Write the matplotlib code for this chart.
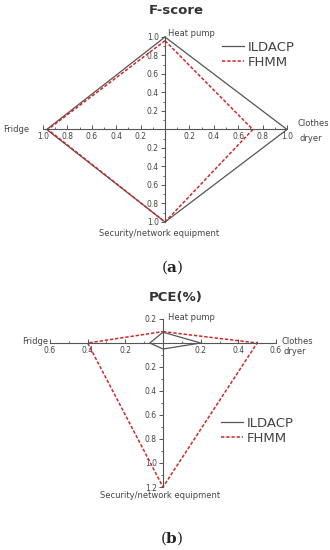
import numpy as np
import matplotlib
matplotlib.use('Agg')
import matplotlib.pyplot as plt
from matplotlib.ticker import FuncFormatter, MultipleLocator

# category order around the diamond: top, right, bottom, left
categories = ['Heat pump', 'Clothes dryer', 'Security/network equipment', 'Fridge']
series = ['ILDACP', 'FHMM']

fscore_ildacp = [1.0, 1.0, 1.0, 0.97]
fscore_fhmm = [0.96, 0.72, 1.0, 0.96]

pce_ildacp = [0.09, 0.20, 0.05, 0.07]
pce_fhmm = [0.095, 0.50, 1.20, 0.40]

W, H = 330, 550
txt_col = '#444444'
line_col = '#555555'
red = '#cc2a2a'


def fpos(x, y):
    # pixel position -> figure fraction
    return x / W, 1 - y / H


def diamond(vals):
    # top, right, bottom, left
    dx = np.array([0, 1, 0, -1])
    dy = np.array([1, 0, -1, 0])
    v = np.array(vals)
    x = np.append(dx * v, dx[0] * v[0])
    y = np.append(dy * v, dy[0] * v[0])
    return x, y


def absfmt(v, pos):
    if abs(v) < 1e-9:
        return ''
    return '%.1f' % abs(v)


def setup_axes(ax, xlim, ylim, major):
    ax.set_xlim(*xlim)
    ax.set_ylim(*ylim)
    for s in ['top', 'right']:
        ax.spines[s].set_visible(False)
    ax.spines['left'].set_position('zero')
    ax.spines['bottom'].set_position('zero')
    for s in ['left', 'bottom']:
        ax.spines[s].set_color(line_col)
        ax.spines[s].set_linewidth(0.8)
    ax.xaxis.set_major_locator(MultipleLocator(major))
    ax.yaxis.set_major_locator(MultipleLocator(major))
    ax.xaxis.set_minor_locator(MultipleLocator(major / 2))
    ax.yaxis.set_minor_locator(MultipleLocator(major / 2))
    ax.xaxis.set_major_formatter(FuncFormatter(absfmt))
    ax.yaxis.set_major_formatter(FuncFormatter(absfmt))
    ax.tick_params(axis='x', which='both', direction='in', colors=line_col,
                   labelcolor=txt_col, labelsize=5.5, pad=2)
    ax.tick_params(axis='y', which='both', direction='out', colors=line_col,
                   labelcolor=txt_col, labelsize=5.5, pad=1.5)
    ax.tick_params(which='major', length=3, width=0.7)
    ax.tick_params(which='minor', length=1.8, width=0.6)
    ax.patch.set_alpha(0)


def axes_from_px(fig, left, right, top, bottom):
    return fig.add_axes([left / W, 1 - bottom / H, (right - left) / W, (bottom - top) / H])


def panel_label(letter, x, y):
    fig.text(*fpos(x, y), '(' + r'$\mathbf{' + letter + '}$' + ')', ha='center', va='center',
             fontsize=11, family='DejaVu Serif', math_fontfamily='dejavuserif', color='#222222')


def add_legend(ax, handles, x, y):
    ax.legend(handles=handles, loc='upper left', bbox_to_anchor=fpos(x, y),
              bbox_transform=fig.transFigure, frameon=False, fontsize=9.5,
              handlelength=1.7, handletextpad=0.25, labelspacing=0.15, labelcolor=txt_col,
              borderaxespad=0, borderpad=0)


fig = plt.figure(figsize=(3.3, 5.5), dpi=100)
cat_fs = 6

# ---------------- panel (a) F-score ----------------
ax1 = axes_from_px(fig, 43, 287, 37, 222)
setup_axes(ax1, (-1.0, 1.0), (-1.0, 1.0), 0.2)
x, y = diamond(fscore_ildacp)
l1, = ax1.plot(x, y, color=line_col, lw=0.9, label=series[0], clip_on=False)
x, y = diamond(fscore_fhmm)
l2, = ax1.plot(x, y, color=red, lw=1.1, ls=(0, (2.2, 1.2)), label=series[1], clip_on=False)
add_legend(ax1, [l1, l2], 222, 41)

fig.text(*fpos(176, 10), 'F-score', ha='center', va='center', fontsize=9.5,
         fontweight='bold', color='#333333')
fig.text(*fpos(168, 33), categories[0], ha='left', va='center', fontsize=cat_fs, color=txt_col)
fig.text(*fpos(297, 124), 'Clothes', ha='left', va='center', fontsize=cat_fs, color=txt_col)
fig.text(*fpos(299, 138), 'dryer', ha='left', va='center', fontsize=cat_fs, color=txt_col)
fig.text(*fpos(3, 129), categories[3], ha='left', va='center', fontsize=cat_fs, color=txt_col)
fig.text(*fpos(159, 233), categories[2], ha='center', va='center', fontsize=cat_fs, color=txt_col)
panel_label('a', 172, 267)

# ---------------- panel (b) PCE(%) ----------------
ax2 = axes_from_px(fig, 50, 276, 319, 487)
setup_axes(ax2, (-0.6, 0.6), (-1.2, 0.2), 0.2)
x, y = diamond(pce_ildacp)
m1, = ax2.plot(x, y, color=line_col, lw=0.9, label=series[0], clip_on=False)
x, y = diamond(pce_fhmm)
m2, = ax2.plot(x, y, color=red, lw=1.1, ls=(0, (2.2, 1.2)), label=series[1], clip_on=False)
add_legend(ax2, [m1, m2], 221, 417)

fig.text(*fpos(176, 297), 'PCE(%)', ha='center', va='center', fontsize=9.5,
         fontweight='bold', color='#333333')
fig.text(*fpos(168, 317), categories[0], ha='left', va='center', fontsize=cat_fs, color=txt_col)
fig.text(*fpos(282, 341), 'Clothes', ha='left', va='center', fontsize=cat_fs, color=txt_col)
fig.text(*fpos(284, 352), 'dryer', ha='left', va='center', fontsize=cat_fs, color=txt_col)
fig.text(*fpos(22, 342), categories[3], ha='left', va='center', fontsize=cat_fs, color=txt_col)
fig.text(*fpos(160, 496), categories[2], ha='center', va='center', fontsize=cat_fs, color=txt_col)
panel_label('b', 172, 538)

fig.savefig('out.png', dpi=100)
